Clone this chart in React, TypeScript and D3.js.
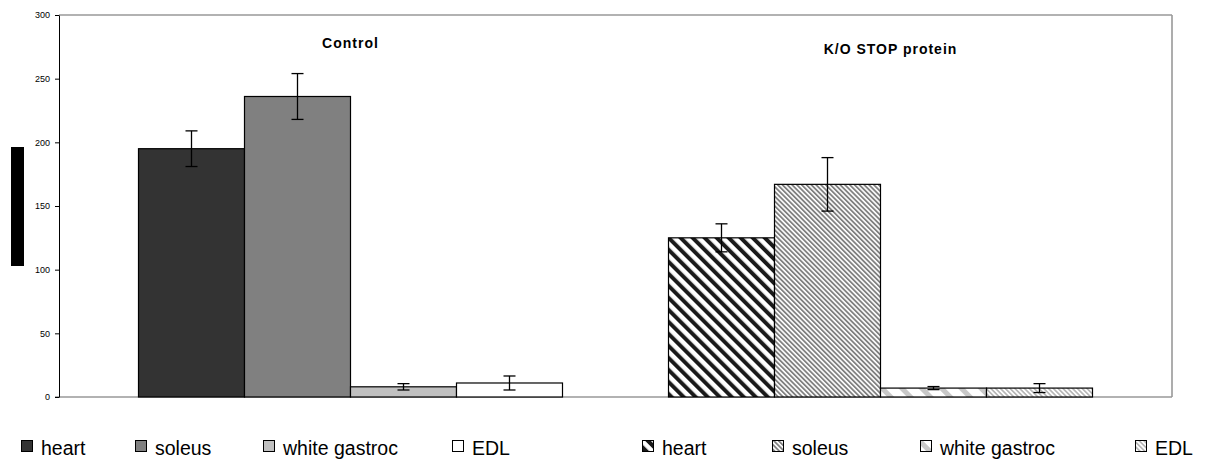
import React, {useEffect, useRef} from 'react';
import * as d3 from 'd3';

// groups and tissues
const groups = ['Control', 'K/O STOP protein'];
const tissues = ['heart', 'soleus', 'white gastroc', 'EDL'];

// values
const controlValues = [195, 236, 8, 11];
const controlErrors = [14, 18, 2.5, 5.5];
const koValues = [125, 167, 7, 7];
const koErrors = [11, 21, 1.2, 3.5];

const yTicks = [0, 50, 100, 150, 200, 250, 300];

const legendLabels = ['heart', 'soleus', 'white gastroc', 'EDL', 'heart', 'soleus', 'white gastroc', 'EDL'];
const legendX = [21, 135, 263, 452, 642, 772, 920, 1135];

const App = () => {
  const svgRef = useRef<SVGSVGElement>(null);

  useEffect(() => {
    document.body.style.margin = '0';
    const w = 1211, h = 467;
    const left = 59, right = 1172, top = 15, bottom = 397;
    const font = 'Arial, "Liberation Sans", sans-serif';

    const svg = d3.select(svgRef.current)
      .attr('width', w)
      .attr('height', h)
      .style('display', 'block')
      .style('background', '#fff');
    svg.selectAll('*').remove();

    // patterns for the K/O bars
    const defs = svg.append('defs');
    const stripe = (id: string, period: number, width: number, color: string) => {
      const p = defs.append('pattern')
        .attr('id', id)
        .attr('patternUnits', 'userSpaceOnUse')
        .attr('width', period)
        .attr('height', period)
        .attr('patternTransform', 'rotate(-45)');
      p.append('rect').attr('width', period).attr('height', period).attr('fill', '#fff');
      p.append('rect').attr('width', width).attr('height', period).attr('fill', color);
    };
    stripe('p-heart', 8.5, 4, '#1a1a1a');
    stripe('p-soleus', 3.4, 1.8, '#808080');
    stripe('p-wg', 14, 5, '#c8c8c8');
    stripe('p-edl', 3.4, 1.7, '#b8b8b8');

    const controlFill = ['#333333', '#808080', '#c0c0c0', '#ffffff'];
    const koFill = ['url(#p-heart)', 'url(#p-soleus)', 'url(#p-wg)', 'url(#p-edl)'];

    // scales
    const y = d3.scaleLinear().domain([0, 300]).range([bottom, top]);
    const x0 = d3.scaleBand().domain(groups).range([85.5, 1145.5]).paddingInner(0.2).paddingOuter(0.1);
    const x1 = d3.scaleBand().domain(tissues).range([0, x0.bandwidth()]);

    // frame
    svg.append('line').attr('x1', left).attr('x2', right).attr('y1', top).attr('y2', top)
      .attr('stroke', '#999').attr('stroke-width', 1.6);
    svg.append('line').attr('x1', right).attr('x2', right).attr('y1', top).attr('y2', bottom)
      .attr('stroke', '#999').attr('stroke-width', 1.6);
    svg.append('line').attr('x1', left - 4).attr('x2', right).attr('y1', bottom).attr('y2', bottom)
      .attr('stroke', '#999').attr('stroke-width', 1.6);

    // y axis
    const ax = svg.append('g')
      .attr('transform', `translate(${left},0)`)
      .call(d3.axisLeft(y).tickValues(yTicks).tickSize(4).tickPadding(5).tickSizeOuter(0));
    ax.select('.domain').attr('stroke', '#000');
    ax.selectAll('.tick line').attr('stroke', '#000');
    ax.selectAll('text').attr('font-family', font).attr('font-size', 9).attr('fill', '#000');

    // black block left of the axis
    svg.append('rect').attr('x', 11).attr('y', 147).attr('width', 13).attr('height', 119).attr('fill', '#000');

    const series = [
      {group: groups[0], values: controlValues, errors: controlErrors, fills: controlFill},
      {group: groups[1], values: koValues, errors: koErrors, fills: koFill},
    ];

    series.forEach(s => {
      const g = svg.append('g').attr('transform', `translate(${x0(s.group)},0)`);
      g.selectAll('rect')
        .data(s.values)
        .join('rect')
        .attr('x', (d, i) => x1(tissues[i])!)
        .attr('y', d => y(d))
        .attr('width', x1.bandwidth())
        .attr('height', d => y(0) - y(d))
        .attr('fill', (d, i) => s.fills[i])
        .attr('stroke', '#000')
        .attr('stroke-width', 1.2);

      // error bars
      s.values.forEach((v, i) => {
        const cx = x1(tissues[i])! + x1.bandwidth() / 2;
        const e = s.errors[i];
        g.append('line').attr('x1', cx).attr('x2', cx).attr('y1', y(v + e)).attr('y2', y(v - e))
          .attr('stroke', '#000').attr('stroke-width', 1.3);
        [v + e, v - e].forEach(t => {
          g.append('line').attr('x1', cx - 6).attr('x2', cx + 6).attr('y1', y(t)).attr('y2', y(t))
            .attr('stroke', '#000').attr('stroke-width', 1.3);
        });
      });
    });

    // group titles
    svg.append('text').attr('x', x0(groups[0])! + x0.bandwidth() / 2).attr('y', 48)
      .attr('text-anchor', 'middle').attr('font-family', font).attr('font-weight', 'bold')
      .attr('font-size', 14).attr('letter-spacing', 1).text(groups[0]);
    svg.append('text').attr('x', x0(groups[1])! + x0.bandwidth() / 2 + 10).attr('y', 54)
      .attr('text-anchor', 'middle').attr('font-family', font).attr('font-weight', 'bold')
      .attr('font-size', 14).attr('letter-spacing', 1).text('K/O STOP protein');

    // legend
    const allFills = [...controlFill, ...koFill];
    const leg = svg.append('g');
    legendLabels.forEach((label, i) => {
      leg.append('rect').attr('x', legendX[i] + 0.5).attr('y', 440.5).attr('width', 11).attr('height', 11)
        .attr('fill', allFills[i]).attr('stroke', '#000').attr('stroke-width', 1);
      leg.append('text').attr('x', legendX[i] + 20).attr('y', 455)
        .attr('font-family', font).attr('font-size', 19.5).attr('fill', '#000').text(label);
    });
  }, []);

  return (
    <div>
      <svg ref={svgRef}></svg>
    </div>
  );
};

export default App;
